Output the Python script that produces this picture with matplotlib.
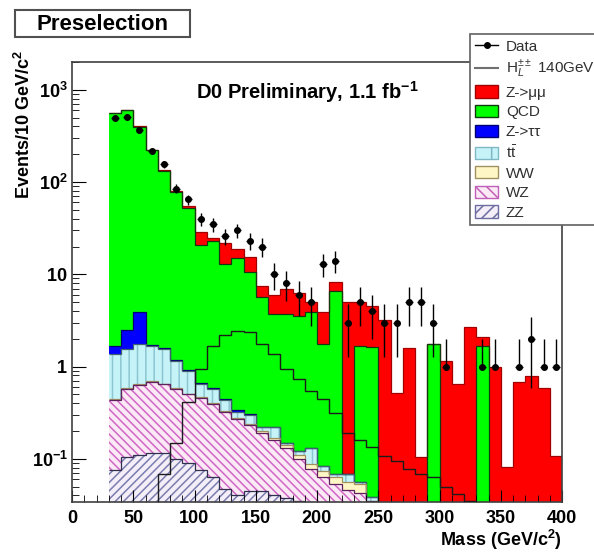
import numpy as np
import matplotlib
matplotlib.use("Agg")
import matplotlib.pyplot as plt
from matplotlib.patches import Patch, Rectangle
from matplotlib.lines import Line2D

plt.rcParams['font.family'] = ['Liberation Sans', 'DejaVu Sans']
plt.rcParams['mathtext.fontset'] = 'custom'
plt.rcParams['mathtext.rm'] = 'Liberation Sans'
plt.rcParams['mathtext.bf'] = 'Liberation Sans:bold'
plt.rcParams['mathtext.it'] = 'Liberation Sans:italic'
plt.rcParams['hatch.linewidth'] = 1.1

# ---------------- data (10 GeV bins from 30 to 400 GeV) ----------------
bin_edges = [30, 40, 50, 60, 70, 80, 90, 100, 110, 120, 130, 140, 150, 160, 170,
             180, 190, 200, 210, 220, 230, 240, 250, 260, 270, 280, 290, 300,
             310, 320, 330, 340, 350, 360, 370, 380, 390, 400]

data_counts = [500, 510, 370, 215, 155, 85, 65, 40, 35, 26, 30, 23, 20, 10, 8, 6,
               5, 13, 14, 3, 5, 4, 3, 3, 5, 5, 3, 1, 0, 0, 1, 1, 0, 1, 2, 1, 1]

zz = [0.075, 0.105, 0.11, 0.115, 0.115, 0.10, 0.09, 0.075, 0.063, 0.047, 0.04,
      0.045, 0.045, 0.04, 0.038, 0.035, 0.03, 0.03, 0.025, 0.02, 0.02, 0.015,
      0, 0, 0, 0, 0, 0, 0, 0, 0, 0, 0, 0, 0, 0, 0]

wz = [0.355, 0.465, 0.52, 0.565, 0.525, 0.47, 0.41, 0.385, 0.327, 0.273, 0.23,
      0.185, 0.145, 0.12, 0.092, 0.065, 0.048, 0.033, 0.028, 0.026, 0.023, 0.02,
      0, 0, 0, 0, 0, 0, 0, 0, 0, 0, 0, 0, 0, 0, 0]

ww = [0.01, 0.01, 0.01, 0.01, 0.01, 0.01, 0.01, 0.01, 0.01, 0.01, 0.01, 0.01,
      0.01, 0.01, 0.01, 0.01, 0.01, 0.01, 0.01, 0.01, 0.01, 0,
      0, 0, 0, 0, 0, 0, 0, 0, 0, 0, 0, 0, 0, 0, 0]

ttbar = [0.92, 0.97, 1.11, 0.97, 0.90, 0.57, 0.38, 0.17, 0.17, 0.10, 0.04, 0.06,
         0.02, 0.05, 0.01, 0.01, 0.042, 0.01, 0.005, 0.013, 0.003, 0.004,
         0, 0, 0, 0, 0, 0, 0, 0, 0, 0, 0, 0, 0, 0, 0]

ztautau = [0.30, 0.95, 2.15, 0.05, 0.05, 0.04, 0.02, 0.03, 0.01, 0.02, 0.02, 0.005,
           0, 0, 0, 0, 0, 0, 0, 0, 0, 0, 0, 0, 0, 0, 0, 0, 0, 0, 0, 0, 0, 0, 0, 0, 0]

qcd = [556, 595, 394, 221, 131, 76, 51, 20.3, 22.4, 12.5, 14.7, 10.4, 5.4, 3.5,
       3.55, 3.4, 3.8, 1.68, 6.5, 0, 1.6, 1.6, 0, 0, 0, 0, 1.74, 0, 0, 0, 1.66,
       0, 0, 0, 0, 0, 0]

zmumu = [2, 2, 2, 2, 2, 3, 3, 8, 2, 9, 3.6, 4.5, 1.8, 2.3, 3.2, 2.8, 1.1, 2.1,
         1.7, 4.9, 3.3, 2.9, 3.2, 0.52, 1.6, 0.105, 0.03, 1.15, 0.64, 2.7, 0.44,
         1.0, 0.081, 0.68, 0.79, 0.58, 0.107]

signal_h140 = [0, 0, 0, 0, 0.069, 0.15, 0.41, 0.93, 1.66, 2.2, 2.4, 2.36, 1.75,
               1.36, 0.93, 0.73, 0.54, 0.44, 0.31, 0.19, 0.16, 0.135, 0.107,
               0.095, 0.078, 0.069, 0.063, 0.05, 0.042, 0.035, 0.03, 0.025,
               0.02, 0.017, 0.014, 0.012, 0.01]

x_ticks = [0, 50, 100, 150, 200, 250, 300, 350, 400]
y_ticks = [0.1, 1, 10, 100, 1000]
y_tick_labels = [r'$\mathbf{10^{-1}}$', r'$\mathbf{1}$', r'$\mathbf{10}$',
                 r'$\mathbf{10^{2}}$', r'$\mathbf{10^{3}}$']

# ---------------- figure ----------------
W, H = 594, 556
fig = plt.figure(figsize=(W / 100, H / 100), dpi=100)
ax = fig.add_axes([72 / W, 1 - 502 / H, (562 - 72) / W, (502 - 62) / H])
ax.set_yscale('log')
ax.set_xlim(0, 400)
ax.set_ylim(0.034, 2000)

edges = np.array(bin_edges, dtype=float)
floor = 1e-3

# stack: bottom -> top
stack = [
    (zz,      '#f3eef8', '#7c7cb0', '////',   '#303050'),
    (wz,      '#fbe9f6', '#d067c4', '\\\\\\\\', '#602060'),
    (ww,      '#fff6c6', '#fff6c6', None,     '#a09060'),
    (ttbar,   '#c6f3f8', '#8cc6d2', '||',     '#406070'),
    (ztautau, '#0000ff', '#0000ff', None,     '#000070'),
    (qcd,     '#00ff00', '#00ff00', None,     '#103a10'),
    (zmumu,   '#ff0000', '#ff0000', None,     '#a00000'),
]
cum = np.cumsum([np.array(s[0], dtype=float) for s in stack], axis=0)

# draw like ROOT THStack: top-most cumulative first, each from the floor
for i in range(len(stack) - 1, -1, -1):
    vals, fc, hc, hatch, lc = stack[i]
    top = np.maximum(cum[i], floor)
    ax.stairs(top, edges, baseline=floor, fill=True, facecolor=fc,
              edgecolor=hc, hatch=hatch, linewidth=0, zorder=1)
    ax.stairs(top, edges, baseline=None, color=lc, linewidth=0.9, zorder=1.5)

# signal outline
sig = np.maximum(np.array(signal_h140, dtype=float), floor)
ax.stairs(sig, edges, baseline=None, color='#1c1c1c', linewidth=1.0, zorder=3)

# data points
d = np.array(data_counts, dtype=float)
centers = 0.5 * (edges[:-1] + edges[1:])
m = d > 0
err = np.sqrt(d[m])
lo = np.where(d[m] - err > 0, err, 0)
ax.errorbar(centers[m], d[m], yerr=[lo, err], xerr=3, fmt='o', ms=4,
            color='black', ecolor='black', elinewidth=1, capsize=0, zorder=4)

# axes styling
for s in ax.spines.values():
    s.set_linewidth(1.2)
    s.set_color('#404040')
ax.set_xticks(x_ticks)
ax.set_xticklabels([str(t) for t in x_ticks], fontsize=13, fontweight='bold')
ax.set_xticks(np.arange(0, 401, 10), minor=True)
ax.set_yticks(y_ticks)
ax.set_yticklabels(y_tick_labels, fontsize=13)
ax.tick_params(axis='both', which='both', direction='in', top=False, right=False)
ax.tick_params(axis='x', which='major', length=9, pad=6)
ax.tick_params(axis='x', which='minor', length=5)
ax.tick_params(axis='y', which='major', length=10, pad=3)
ax.tick_params(axis='y', which='minor', length=5)

# texts
fig.text(562 / W, 1 - 540 / H, r'Mass (GeV/c$^{\mathbf{2}}$)', ha='right',
         va='center', fontsize=13, fontweight='bold')
fig.text(24 / W, 1 - 50 / H, r'Events/10 GeV/c$^{\mathbf{2}}$', rotation=90,
         ha='center', va='top', fontsize=13, fontweight='bold')
fig.text(196 / W, 1 - 92 / H, r'D0 Preliminary, 1.1 fb$^{\mathbf{-1}}$',
         ha='left', va='center', fontsize=14.5, fontweight='bold')

fig.patches.append(Rectangle((15 / W, 1 - 37 / H), 175 / W, 27 / H,
                             transform=fig.transFigure, facecolor='white',
                             edgecolor='#505050', linewidth=1.5))
fig.text(102 / W, 1 - 24 / H, 'Preselection', ha='center', va='center',
         fontsize=16, fontweight='bold')

# legend
handles = [
    Line2D([], [], color='black', marker='o', ms=4, lw=1),
    Line2D([], [], color='#707070', lw=1.5),
    Patch(facecolor='#ff0000', edgecolor='#a00000'),
    Patch(facecolor='#00ff00', edgecolor='#103a10'),
    Patch(facecolor='#0000ff', edgecolor='#000070'),
    Patch(facecolor='#c6f3f8', edgecolor='#7fb8c4', hatch='|'),
    Patch(facecolor='#fff6c6', edgecolor='#a09060'),
    Patch(facecolor='#fbe9f6', edgecolor='#c060b8', hatch='\\\\\\'),
    Patch(facecolor='#f3eef8', edgecolor='#6c6ca0', hatch='///'),
]
labels = ['Data', r'H$_{L}^{\pm\pm}$ 140GeV', 'Z->μμ', 'QCD', 'Z->ττ',
          r't$\bar{\mathrm{t}}$', 'WW', 'WZ', 'ZZ']
leg = fig.legend(handles, labels, loc='upper left',
                 bbox_to_anchor=(470 / W, 1 - 34 / H), frameon=True,
                 fancybox=False, edgecolor='#606060', facecolor='white',
                 framealpha=1, fontsize=11, handlelength=1.5, handleheight=0.85,
                 handletextpad=0.5, labelspacing=0.34, borderpad=0.35,
                 borderaxespad=0)
leg.get_frame().set_linewidth(1.2)
for t in leg.get_texts():
    t.set_color('#303030')

fig.savefig('out.png', dpi=100)
